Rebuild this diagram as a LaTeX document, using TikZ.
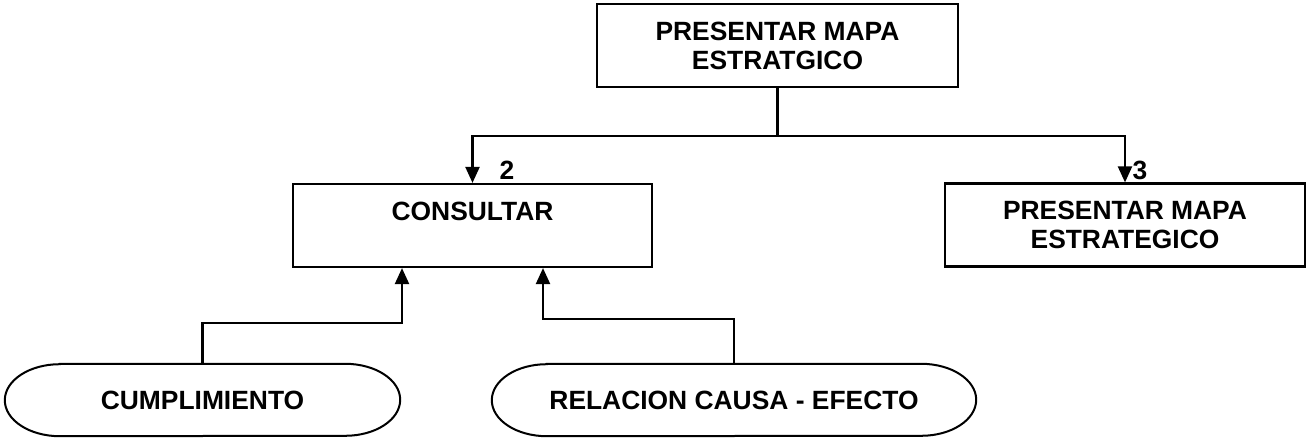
\documentclass[tikz,border=0pt]{standalone}
\usepackage{fontspec}
\setmainfont{Liberation Sans}
\usetikzlibrary{arrows.meta}
\begin{document}
\begin{tikzpicture}[x=1pt,y=-1pt,
  every node/.style={font=\fontsize{26.4}{29}\selectfont\bfseries, align=center, inner sep=0pt},
  box/.style={draw, line width=2.2pt, minimum width=#1, minimum height=83pt},
  pill/.style={minimum width=#1, minimum height=72pt},
  pillline/.style={line width=2pt},
  conn/.style={line width=2.2pt},
  arr/.style={conn, -{Triangle[length=16pt,width=14pt]}},
  num/.style={font=\fontsize{26.4}{29}\selectfont\bfseries}]
\useasboundingbox (0,0) rectangle (1307,438);
\node[box=361pt] (top) at (777.5,45.5) {PRESENTAR MAPA\\ESTRATGICO};
\node[box=359pt] (consult) at (472.5,225.5) {CONSULTAR\\\mbox{}};
\node[box=360pt] (right) at (1125,225) {PRESENTAR MAPA\\ESTRATEGICO};
\node[pill=395pt] (cump) at (202.5,400) {CUMPLIMIENTO};
\node[pill=484pt] (rel) at (734,400) {RELACION CAUSA - EFECTO};
\foreach \n in {cump,rel}{
  \draw[pillline] ([xshift=55pt]\n.north west) -- ([xshift=-55pt]\n.north east)
    arc[start angle=90,end angle=-90,x radius=55pt,y radius=36pt]
    -- ([xshift=55pt]\n.south west)
    arc[start angle=270,end angle=90,x radius=55pt,y radius=36pt] -- cycle;
}
\coordinate (j) at (777.5,136);
\draw[conn] (top.south) -- (j);
\draw[arr] (j) -| (consult.north);
\draw[arr] (j) -| (right.north);
\node[num] (n2) at (507,170) {2};
\node[num] (n3) at (1140,170) {3};
\draw[arr] (cump.north) -- ++(0,-41) -| ([xshift=-70.5pt]consult.south);
\draw[arr] (rel.north) -- ++(0,-45) -| ([xshift=70.5pt]consult.south);
\end{tikzpicture}
\end{document}
